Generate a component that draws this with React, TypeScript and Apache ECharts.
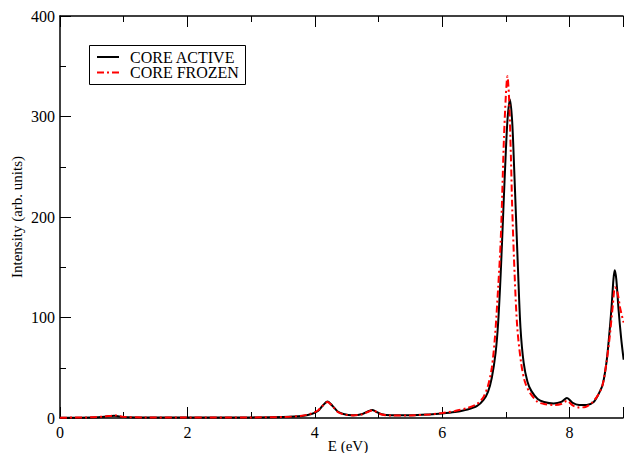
import React, { useEffect, useRef } from "react";
import * as echarts from "echarts";

const activeX = [0, 0.5, 0.7, 0.85, 1.0, 1.3, 2.0, 3.0, 3.5, 3.8, 3.95, 4.05, 4.12, 4.2, 4.28, 4.36, 4.45, 4.6, 4.75, 4.85, 4.9, 4.97, 5.05, 5.2, 5.5, 5.8, 6.0, 6.2, 6.4, 6.55, 6.65, 6.72, 6.78, 6.84, 6.88, 6.92, 6.96, 7.0, 7.03, 7.065, 7.1, 7.13, 7.16, 7.19, 7.23, 7.28, 7.34, 7.4, 7.5, 7.6, 7.75, 7.87, 7.96, 8.05, 8.15, 8.27, 8.38, 8.45, 8.52, 8.58, 8.62, 8.66, 8.69, 8.71, 8.735, 8.77, 8.81, 8.85];
const activeY = [0.3, 0.6, 1.2, 2.2, 1.0, 0.5, 0.4, 0.6, 1.0, 2.0, 4, 7, 12, 16.5, 12, 6.5, 4, 2.8, 4, 7, 8, 6, 3.8, 2.8, 2.7, 3.5, 4.5, 6, 8.5, 12, 18, 26, 40, 65, 95, 144, 205, 265, 300, 317, 295, 250, 200, 150, 90, 55, 36, 27, 19, 16, 14.5, 16, 20, 15, 13, 13, 16, 23, 33, 55, 80, 110, 138, 147, 138, 108, 80, 58];

const frozenX = [0, 0.5, 0.7, 0.87, 1.0, 1.3, 2.0, 3.0, 3.5, 3.8, 3.95, 4.05, 4.12, 4.2, 4.28, 4.36, 4.45, 4.6, 4.75, 4.85, 4.92, 4.98, 5.05, 5.2, 5.5, 5.8, 6.0, 6.2, 6.4, 6.55, 6.65, 6.72, 6.78, 6.83, 6.88, 6.92, 6.97, 7.0, 7.025, 7.05, 7.08, 7.1, 7.14, 7.18, 7.24, 7.3, 7.38, 7.5, 7.6, 7.75, 7.87, 7.96, 8.05, 8.15, 8.25, 8.35, 8.45, 8.52, 8.58, 8.63, 8.68, 8.715, 8.75, 8.8, 8.85];
const frozenY = [0.3, 0.7, 1.5, 2.5, 1.2, 0.5, 0.4, 0.6, 1.0, 2.2, 4.5, 7.5, 12, 16, 11.5, 6, 3.7, 2.6, 3.8, 6.5, 7.5, 5.5, 3.5, 2.5, 2.6, 3.6, 5, 7, 10, 14, 21, 32, 50, 81, 130, 177, 277, 320, 340, 320, 260, 210, 140, 90, 55, 36, 25, 16, 14, 13, 14, 17, 12.5, 10.5, 11, 15, 23, 33, 55, 80, 112, 130, 126, 108, 95];

const seriesNames = ["CORE ACTIVE", "CORE FROZEN"];
const xTicks = [0, 2, 4, 6, 8];
const yTicks = [0, 100, 200, 300, 400];

const FONT = "'Liberation Serif', 'DejaVu Serif', serif";

export default function App() {
  const ref = useRef<HTMLDivElement>(null);
  useEffect(() => {
    const chart = echarts.init(ref.current!, null, { renderer: "svg" });
    const axisCommon = {
      axisLine: { lineStyle: { color: "#000", width: 1.5 } },
      splitLine: { show: false },
    };
    chart.setOption({
      animation: false,
      backgroundColor: "#fff",
      grid: { left: 60, right: 0, top: 16, bottom: 35 },
      xAxis: [
        {
          type: "value",
          min: xTicks[0],
          max: 8.84,
          interval: 2,
          position: "bottom",
          ...axisCommon,
          axisTick: { inside: true, length: 11, lineStyle: { color: "#000", width: 1 } },
          minorTick: { show: true, splitNumber: 2, length: 6, lineStyle: { color: "#000", width: 1 } },
          axisLabel: {
            color: "#000",
            fontFamily: FONT,
            fontSize: 16,
            margin: 6,
            formatter: (v: number) => (xTicks.includes(v) ? String(v) : ""),
          },
        },
        {
          type: "value",
          min: xTicks[0],
          max: 8.84,
          interval: 2,
          position: "top",
          ...axisCommon,
          axisTick: { inside: true, length: 11, lineStyle: { color: "#000", width: 1 } },
          minorTick: { show: true, splitNumber: 2, length: 6, lineStyle: { color: "#000", width: 1 } },
          axisLabel: { show: false },
        },
      ],
      yAxis: {
        type: "value",
        min: yTicks[0],
        max: yTicks[yTicks.length - 1],
        interval: 100,
        ...axisCommon,
        axisTick: { inside: true, length: 11, lineStyle: { color: "#000", width: 1 } },
        minorTick: { show: true, splitNumber: 2, length: 6, lineStyle: { color: "#000", width: 1 } },
        axisLabel: { color: "#000", fontFamily: FONT, fontSize: 16, margin: 5 },
      },
      series: [
        {
          name: seriesNames[0],
          type: "line",
          data: activeX.map((x, i) => [x, activeY[i]]),
          showSymbol: false,
          smooth: 0.3,
          lineStyle: { color: "#000", width: 2 },
          clip: true,
        },
        {
          name: seriesNames[1],
          type: "line",
          data: frozenX.map((x, i) => [x, frozenY[i]]),
          showSymbol: false,
          smooth: 0.3,
          lineStyle: { color: "#ff0000", width: 2, type: [7, 3, 2, 3] },
          clip: true,
        },
      ],
      graphic: [
        {
          type: "rect",
          shape: { x: 89.5, y: 45.5, width: 156, height: 39 },
          style: { fill: "#fff", stroke: "#000", lineWidth: 1 },
          z: 100,
        },
        {
          type: "line",
          shape: { x1: 97, y1: 57, x2: 119, y2: 57 },
          style: { stroke: "#000", lineWidth: 2 },
          z: 101,
        },
        {
          type: "line",
          shape: { x1: 97, y1: 72.5, x2: 119, y2: 72.5 },
          style: { stroke: "#ff0000", lineWidth: 2, lineDash: [7, 3, 2, 3] },
          z: 101,
        },
        {
          type: "text",
          x: 130,
          y: 57,
          style: { text: seriesNames[0], fill: "#000", font: `16px ${FONT}`, verticalAlign: "middle" },
          z: 101,
        },
        {
          type: "text",
          x: 130,
          y: 72.5,
          style: { text: seriesNames[1], fill: "#000", font: `16px ${FONT}`, verticalAlign: "middle" },
          z: 101,
        },
        {
          type: "text",
          x: 348,
          y: 446,
          style: { text: "E (eV)", fill: "#000", font: `15px ${FONT}`, align: "center", verticalAlign: "middle" },
        },
        {
          type: "text",
          x: 17,
          y: 217,
          rotation: Math.PI / 2,
          style: { text: "Intensity (arb. units)", fill: "#000", font: `15px ${FONT}`, align: "center", verticalAlign: "middle" },
        },
      ],
    });
    return () => chart.dispose();
  }, []);
  return <div ref={ref} style={{ width: 626, height: 453, position: "absolute", left: 0, top: 0 }} />;
}
